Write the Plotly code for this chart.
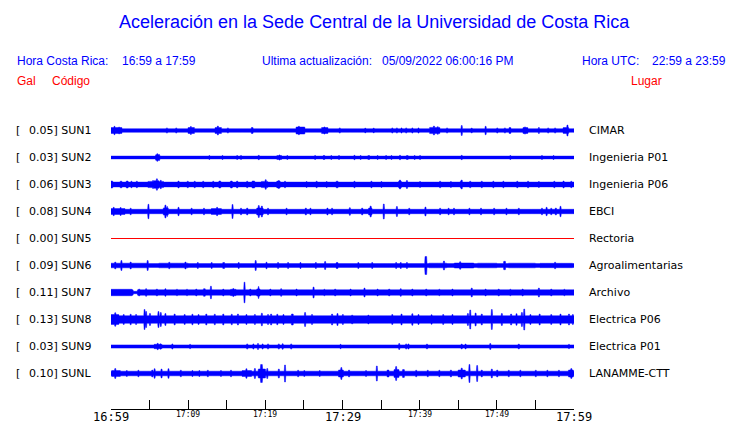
import numpy as np
import plotly.graph_objects as go

# ---------------- data ----------------
stations = ["SUN1", "SUN2", "SUN3", "SUN4", "SUN5", "SUN6", "SUN7", "SUN8", "SUN9", "SUNL"]
peak_gal = ["0.05", "0.03", "0.06", "0.08", "0.00", "0.09", "0.11", "0.13", "0.03", "0.10"]
places = ["CIMAR", "Ingenieria P01", "Ingenieria P06", "EBCI", "Rectoria",
          "Agroalimentarias", "Archivo", "Electrica P06", "Electrica P01", "LANAMME-CTT"]
trace_colors = ["blue", "blue", "blue", "blue", "red", "blue", "blue", "blue", "blue", "blue"]

# background (noise) half amplitude of each trace, in trace units
base_amp = [1.8, 1.4, 2.4, 2.2, 0.0, 1.9, 2.7, 3.8, 1.6, 2.3]

# bursts read from the record: (start minute, end minute, half amplitude)
bursts_sun1 = [(0.0, 1.4, 3.0), (0.4, 0.5, 4.2), (1.0, 1.1, 3.5), (7.2, 7.3, 2.6), (8.4, 8.5, 2.6),
               (10.0, 10.8, 3.0), (10.3, 10.4, 4.0), (13.5, 14.3, 3.0), (13.8, 13.9, 4.5), (15.1, 15.2, 2.6),
               (18.2, 18.4, 3.0), (24.0, 25.1, 3.5), (24.3, 24.4, 4.2), (27.3, 28.1, 3.0), (27.6, 27.7, 3.6),
               (29.6, 29.7, 2.6), (32.9, 33.0, 2.4),
               (34.0, 34.1, 2.4), (36.4, 36.5, 2.6), (37.0, 37.1, 2.6), (37.6, 37.7, 2.6), (38.2, 38.3, 2.6),
               (39.0, 39.1, 2.6), (39.8, 39.9, 2.6), (41.3, 42.6, 3.1), (41.8, 41.9, 4.5), (42.3, 42.4, 3.8),
               (43.5, 43.6, 2.6),
               (45.4, 45.5, 5.0), (46.7, 46.8, 2.5), (48.5, 48.6, 4.2), (50.0, 50.1, 2.6), (51.0, 51.1, 2.6),
               (51.6, 51.8, 3.0), (53.4, 54.0, 3.0), (53.6, 53.7, 3.6), (55.4, 55.5, 3.0), (56.6, 56.7, 2.6),
               (57.5, 57.6, 2.6), (58.6, 59.3, 2.9), (59.1, 59.2, 5.5)]
bursts_sun2 = [(5.8, 6.3, 2.8), (5.95, 6.05, 3.8), (6.2, 6.25, 3.2), (12.7, 12.8, 2.0), (14.4, 14.5, 2.0),
               (16.3, 16.4, 2.0), (16.8, 16.9, 2.0), (19.1, 19.2, 2.2), (21.5, 22.1, 2.0), (21.8, 21.9, 2.6),
               (22.8, 22.9, 2.0), (26.4, 26.5, 2.0), (27.5, 27.7, 2.0),
               (28.5, 28.6, 2.0), (29.5, 29.6, 2.0), (31.5, 31.6, 2.2), (32.3, 32.4, 2.0), (33.3, 33.5, 2.0),
               (34.5, 34.6, 2.0), (35.6, 35.7, 2.0), (36.3, 36.4, 2.0), (37.4, 37.5, 2.2), (38.3, 38.5, 2.0),
               (39.3, 39.4, 2.0), (40.0, 40.1, 2.0), (45.4, 45.5, 2.2), (51.7, 51.8, 2.0), (55.8, 55.9, 2.0),
               (57.3, 57.4, 2.0)]
bursts_sun3 = [(0.0, 0.2, 3.5), (1.2, 1.4, 3.3), (2.0, 2.2, 3.5), (2.6, 2.7, 3.3), (3.3, 3.4, 3.3),
               (4.8, 6.8, 3.1), (5.4, 5.5, 4.0), (5.6, 6.2, 3.8), (5.9, 6.0, 5.7), (6.4, 6.5, 4.2),
               (8.7, 8.8, 3.5), (9.9, 10.0, 3.3),
               (10.8, 10.9, 3.3), (11.9, 12.0, 3.3), (13.2, 13.3, 3.3), (14.0, 14.2, 3.5), (15.5, 15.7, 3.5),
               (16.3, 16.4, 3.5), (17.6, 17.7, 3.3), (18.3, 18.6, 3.5), (19.5, 20.3, 3.1), (20.0, 20.1, 4.8),
               (21.5, 21.9, 3.4), (21.7, 21.8, 4.0), (22.5, 22.6, 3.3), (25.3, 25.4, 3.0), (26.6, 26.7, 3.3),
               (27.9, 28.0, 3.0),
               (29.2, 29.4, 3.3), (31.5, 31.6, 3.3), (33.7, 33.8, 3.3), (35.0, 35.1, 3.0), (37.3, 37.6, 3.4),
               (37.4, 37.5, 4.5),
               (38.3, 38.4, 4.0), (40.0, 40.1, 3.0), (42.6, 42.7, 3.3), (44.0, 44.1, 3.0), (45.3, 45.5, 3.4),
               (45.4, 45.5, 4.5),
               (46.5, 46.6, 3.3), (48.0, 48.1, 3.3), (49.5, 49.6, 3.3), (50.8, 50.9, 3.3), (52.6, 52.7, 3.3),
               (54.0, 54.1, 3.3), (55.4, 55.5, 3.0), (57.4, 57.5, 3.3), (58.6, 58.7, 3.5), (59.6, 59.7, 3.3)]
bursts_sun4 = [(0.0, 1.8, 3.0), (0.3, 0.4, 4.2), (1.2, 1.3, 4.0), (2.5, 2.6, 3.3), (4.8, 4.9, 7.2),
               (6.8, 7.4, 3.6), (7.0, 7.1, 6.5), (7.25, 7.3, 5.0), (8.7, 8.8, 4.2), (10.4, 10.5, 3.3),
               (12.0, 12.1, 3.3),
               (13.0, 14.3, 2.9), (13.7, 13.8, 4.2), (15.7, 15.8, 7.0), (16.8, 16.9, 3.3), (17.6, 17.7, 3.5),
               (18.9, 19.7, 3.4), (19.1, 19.2, 6.0), (19.5, 19.6, 5.5), (20.3, 20.4, 3.3), (22.7, 22.8, 3.3),
               (25.2, 25.3, 3.5), (25.8, 25.9, 3.3), (28.0, 28.1, 3.5), (28.6, 28.7, 3.3), (30.9, 31.0, 3.8),
               (32.5, 32.6, 3.5), (33.4, 33.8, 3.5),
               (33.6, 33.7, 5.5), (35.3, 35.4, 7.5), (37.0, 37.1, 5.0), (38.6, 38.7, 3.3), (40.7, 40.8, 4.5),
               (42.6, 42.7, 3.3), (43.7, 43.8, 3.3), (44.4, 44.5, 3.3), (46.4, 46.5, 3.3), (47.9, 48.0, 3.3),
               (49.6, 49.7, 3.3),
               (51.2, 51.3, 3.3), (52.8, 52.9, 3.3), (55.8, 55.9, 3.3), (56.4, 56.5, 4.2), (57.0, 57.1, 3.3),
               (57.6, 57.7, 3.5), (58.2, 58.3, 5.2)]
bursts_sun5 = []
bursts_sun6 = [(0.0, 4.8, 2.3), (1.3, 1.4, 5.0), (0.5, 0.6, 3.5), (2.5, 2.6, 3.5), (4.7, 4.8, 5.0),
               (6.2, 10.0, 2.3), (7.5, 7.6, 3.3), (9.6, 9.7, 3.5), (11.2, 11.3, 3.0), (13.0, 13.1, 3.0),
               (14.5, 14.7, 3.0), (16.5, 16.6, 3.0), (18.7, 18.8, 5.0), (20.1, 20.2, 3.3), (21.6, 21.7, 3.0),
               (22.9, 23.0, 3.0), (24.5, 24.6, 3.0), (26.5, 26.6, 3.0), (27.7, 27.8, 4.0), (29.2, 29.4, 3.0),
               (32.0, 32.1, 3.0), (33.8, 33.9, 3.0), (36.9, 37.0, 3.0), (37.5, 37.6, 3.0), (38.3, 38.4, 3.0),
               (40.7, 40.9, 9.0),
               (41.2, 43.5, 2.3), (43.1, 43.2, 4.5), (44.5, 47.0, 2.5), (45.2, 45.3, 3.8), (47.5, 50.0, 2.3),
               (50.9, 51.1, 4.2), (51.5, 55.0, 2.3), (55.6, 59.8, 2.2), (57.5, 57.6, 3.3)]
bursts_sun7 = [(0.0, 2.7, 3.2), (2.9, 3.4, 1.2), (3.6, 3.7, 3.5), (4.5, 4.6, 3.8), (5.9, 6.0, 3.5),
               (7.0, 7.1, 3.8), (8.5, 8.6, 3.3), (9.8, 9.9, 3.3), (11.0, 11.1, 3.5), (12.0, 12.2, 3.8),
               (12.9, 13.0, 6.3), (14.5, 14.6, 3.5), (15.5, 16.2, 3.2), (15.8, 15.9, 4.0), (17.25, 17.35, 10.3),
               (18.0, 18.1, 3.5),
               (18.9, 19.3, 3.6), (19.1, 19.15, 6.0), (20.6, 20.7, 3.5), (22.0, 22.1, 3.8), (24.0, 24.1, 3.5),
               (26.2, 26.3, 5.5),
               (27.6, 27.7, 3.3), (29.0, 29.1, 3.5), (31.0, 31.1, 3.5), (32.8, 32.9, 4.5), (34.5, 34.6, 3.5),
               (36.0, 36.1, 3.5), (37.5, 37.6, 3.8), (39.0, 39.1, 3.5), (40.8, 40.9, 3.5), (42.5, 42.6, 3.3),
               (44.2, 44.3, 3.5), (46.7, 46.8, 4.5), (48.5, 48.6, 3.5), (50.2, 50.3, 3.5), (51.7, 51.8, 3.3),
               (53.3, 53.4, 3.5), (55.4, 55.5, 4.5), (57.0, 57.1, 3.5), (58.7, 58.8, 3.3)]
bursts_sun8 = [(0.0, 1.0, 5.0), (0.5, 0.6, 6.8), (1.6, 1.7, 5.0), (2.5, 2.6, 5.3), (3.2, 3.3, 5.0),
               (4.3, 4.4, 10.0), (4.5, 4.6, 8.0), (5.0, 5.1, 6.0), (6.1, 6.2, 8.0), (6.4, 6.5, 7.0),
               (7.0, 7.1, 6.0), (8.2, 8.3, 5.5),
               (9.5, 9.6, 5.0), (10.5, 10.6, 5.3), (11.3, 11.4, 5.0), (12.3, 12.4, 5.5), (13.4, 13.5, 5.3),
               (14.5, 14.6, 5.5), (15.6, 15.7, 5.3), (16.4, 16.5, 5.5), (17.5, 17.6, 5.0), (18.6, 18.7, 5.0),
               (19.5, 19.6, 6.3), (20.3, 20.4, 5.0), (20.7, 20.8, 5.5), (21.5, 21.6, 5.3), (22.3, 22.4, 5.0),
               (23.4, 23.6, 5.5), (25.1, 25.2, 7.0),
               (26.0, 26.1, 5.0), (28.6, 28.7, 5.5), (29.3, 29.4, 6.0), (30.0, 30.1, 5.0), (31.2, 31.3, 4.5),
               (33.3, 33.4, 4.5),
               (36.4, 36.5, 5.0), (37.6, 37.7, 5.5), (39.0, 39.1, 5.8), (39.8, 39.9, 5.0), (41.5, 41.6, 4.8),
               (43.0, 43.1, 5.0),
               (44.2, 44.3, 5.0), (46.2, 46.3, 6.0), (46.5, 46.6, 9.5), (47.2, 47.3, 6.5), (48.0, 48.1, 5.5),
               (49.3, 49.4, 10.0),
               (50.6, 50.7, 6.0), (51.8, 51.9, 5.5), (52.5, 52.6, 5.8), (53.2, 53.3, 7.0), (53.5, 53.6, 10.5),
               (54.3, 54.4, 5.0), (55.5, 55.6, 5.5), (57.0, 57.1, 5.0), (58.2, 58.3, 5.5), (59.3, 59.4, 5.5),
               (59.8, 59.9, 5.0)]
bursts_sun9 = [(5.6, 6.6, 2.2), (6.0, 6.1, 3.2), (6.4, 6.45, 2.8), (7.9, 8.0, 2.6), (10.2, 10.3, 2.2),
               (17.6, 17.7, 2.6), (18.4, 18.5, 2.6), (19.0, 19.1, 3.0), (19.6, 19.7, 2.6), (20.3, 20.4, 2.6),
               (21.7, 21.8, 2.6), (22.2, 22.3, 2.8), (23.3, 23.4, 2.6),
               (29.7, 29.8, 2.2), (37.3, 37.4, 3.0), (38.2, 38.3, 2.6), (38.5, 38.6, 2.6), (40.9, 41.0, 2.5),
               (45.4, 45.5, 2.5), (45.9, 46.0, 2.5),
               (49.1, 49.2, 3.0), (52.8, 52.9, 2.5), (59.3, 59.4, 2.2)]
bursts_sunl = [(0.1, 1.2, 3.0), (0.5, 0.6, 5.0), (2.0, 2.1, 3.0), (3.5, 3.6, 3.3), (5.3, 5.4, 3.5),
               (5.6, 5.7, 4.8), (6.5, 6.6, 4.5), (7.4, 7.5, 4.8), (9.0, 9.1, 3.3), (10.5, 10.6, 3.0),
               (11.4, 11.5, 3.0),
               (12.5, 12.6, 3.3), (14.2, 14.3, 3.0), (15.5, 15.6, 3.3), (17.0, 18.2, 3.0), (17.5, 17.6, 4.8),
               (18.6, 18.7, 5.0), (19.1, 20.0, 4.5), (19.4, 19.6, 9.0), (20.2, 20.3, 5.0), (21.7, 21.8, 4.5),
               (22.5, 22.6, 8.5), (24.2, 24.3, 3.3), (25.0, 25.1, 3.0), (27.0, 27.1, 3.0), (29.5, 30.1, 3.5),
               (29.8, 29.9, 6.0),
               (30.8, 30.9, 3.5), (33.0, 33.1, 3.0), (34.4, 34.5, 7.5), (35.8, 36.0, 3.5), (36.7, 37.3, 4.0),
               (36.9, 37.0, 7.0),
               (37.8, 38.0, 4.0), (39.5, 39.6, 3.3), (41.0, 41.1, 3.3), (42.5, 42.6, 3.3), (44.0, 44.1, 3.5),
               (45.0, 45.9, 3.5), (45.4, 45.5, 5.5), (46.4, 46.5, 9.0), (47.4, 47.5, 8.0), (48.0, 48.1, 3.5),
               (49.3, 49.4, 4.5),
               (50.0, 50.1, 3.5), (51.5, 51.6, 3.3), (53.0, 53.1, 3.3), (55.0, 55.1, 3.3), (56.5, 56.6, 3.3),
               (58.0, 58.1, 3.3), (59.3, 59.9, 3.5), (59.6, 59.7, 5.0)]
all_bursts = [bursts_sun1, bursts_sun2, bursts_sun3, bursts_sun4, bursts_sun5,
              bursts_sun6, bursts_sun7, bursts_sun8, bursts_sun9, bursts_sunl]

tick_minutes = [0, 5, 10, 15, 20, 25, 30, 35, 40, 45, 50, 55, 60]
major_ticks = [0, 30, 60]
major_labels = ["16:59", "17:29", "17:59"]
minor_ticks = [10, 20, 40, 50]
minor_labels = ["17:09", "17:19", "17:39", "17:49"]

title_text = "Aceleración en la Sede Central de la Universidad de Costa Rica"
hora_cr = "16:59 a 17:59"
ultima = "05/09/2022 06:00:16 PM"
hora_utc = "22:59 a 23:59"

# ---------------- figure ----------------
# the page shows the figure 8 px in from the top-left corner
OX, OY = 8, 8
W, H = 740 - OX, 423 - OY
ROW = 27.0
t = np.round(np.arange(0, 60.0001, 0.05), 3)


def px(x):
    return (x - OX) / W


def py(y):
    return (H - (y - OY)) / H


fig = go.Figure()
for i, st in enumerate(stations):
    c = -ROW * i
    if base_amp[i] == 0:
        fig.add_trace(go.Scatter(x=[0, 60], y=[c, c], mode="lines",
                                 line=dict(color=trace_colors[i], width=1), hoverinfo="skip"))
        continue
    env = np.full(t.shape, base_amp[i])
    for (a, b, amp) in all_bursts[i]:
        m = (t >= a - 1e-9) & (t <= b + 1e-9)
        if amp >= base_amp[i]:
            env[m] = np.maximum(env[m], amp)
        else:
            env[m] = amp
    xs = np.concatenate([t, t[::-1]])
    ys = np.concatenate([c + env, (c - env)[::-1]])
    fig.add_trace(go.Scatter(x=xs, y=ys, mode="lines", fill="toself",
                             fillcolor=trace_colors[i],
                             line=dict(color=trace_colors[i], width=0.5, simplify=False),
                             hoverinfo="skip"))

ann = []


def A(text, x, y, xref="paper", yref="paper", size=12, color="blue", family="Liberation Sans", xanchor="left"):
    ann.append(dict(text=text, x=x, y=y, xref=xref, yref=yref, showarrow=False,
                    xanchor=xanchor, yanchor="middle",
                    font=dict(size=size, color=color, family=family)))


A(title_text, px(375), py(22), size=18, xanchor="center")
A("Hora Costa Rica:", px(15), py(60.7))
A(hora_cr, px(120), py(60.7))
A("Ultima actualización:", px(260), py(60.7))
A(ultima, px(380), py(60.7))
A("Hora UTC:", px(580), py(60.7))
A(hora_utc, px(650), py(60.7))
A("Gal", px(15), py(80.7), color="red")
A("Código", px(50), py(80.7), color="red")
A("Lugar", px(629), py(80.7), color="red")

for i, st in enumerate(stations):
    c = -ROW * i
    A("[", px(14), c, yref="y", size=11, color="black", family="DejaVu Sans")
    A(f"{peak_gal[i]}] {st}", px(27), c, yref="y", size=11, color="black", family="DejaVu Sans")
    A(places[i], px(586.5), c, yref="y", size=11, color="black", family="DejaVu Sans")

for m, lab in zip(major_ticks, major_labels):
    A(lab, m, py(416.5), xref="x", size=12, color="black", family="DejaVu Sans Mono", xanchor="center")
for m, lab in zip(minor_ticks, minor_labels):
    A(lab, m, py(414.5), xref="x", size=8, color="black", family="DejaVu Sans Mono", xanchor="center")

fig.update_layout(
    width=W, height=H, margin=dict(l=0, r=0, t=0, b=0),
    paper_bgcolor="white", plot_bgcolor="white", showlegend=False,
    annotations=ann,
    xaxis=dict(domain=[px(111), px(574)], range=[0, 60], showgrid=False, zeroline=False,
               showline=True, linecolor="black", linewidth=1, ticks="inside", ticklen=9,
               tickcolor="black", tickwidth=1, tickvals=tick_minutes, showticklabels=False,
               fixedrange=True),
    yaxis=dict(domain=[py(409), py(112)], range=[-278.5, 18.5], showgrid=False,
               zeroline=False, showline=False, showticklabels=False, ticks="", fixedrange=True),
)

fig.write_html("out.html")
